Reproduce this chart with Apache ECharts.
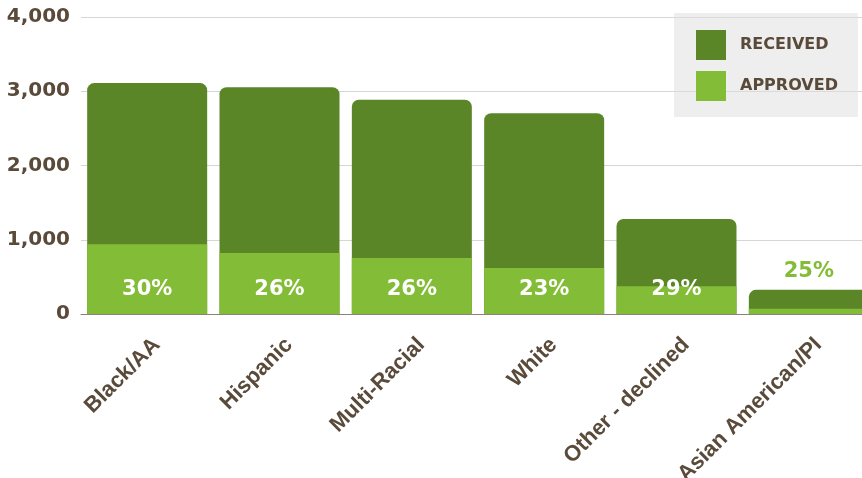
<!DOCTYPE html>
<html>
<head>
<meta charset="utf-8">
<script src="https://cdn.jsdelivr.net/npm/echarts@6/dist/echarts.min.js"></script>
<style>
  html, body { margin: 0; padding: 0; background: #fff; }
  #main { width: 862px; height: 478px; }
</style>
</head>
<body>
<div id="main"></div>
<script>
const categories = ['Black/AA', 'Hispanic', 'Multi-Racial', 'White', 'Other - declined', 'Asian American/PI'];
const received = [3110, 3055, 2885, 2705, 1280, 325];
const approved = [940, 820, 755, 620, 375, 70];
const percents = ['30%', '26%', '26%', '23%', '29%', '25%'];
const yTicks = [0, 1000, 2000, 3000, 4000];

const DARK = '#5b8628', LIGHT = '#83bd37', BROWN = '#5a4a3a';

var chart = echarts.init(document.getElementById('main'));

// short bars get their percent above the received bar instead of inside
function isShort(i) { return received[i] < 1000; }

var receivedData = received.map(function (v, i) {
    return {
        value: v,
        label: {
            show: isShort(i),
            position: 'top',
            distance: 8,
            formatter: percents[i],
            color: LIGHT,
            fontFamily: 'DejaVu Sans',
            fontWeight: 'bold',
            fontSize: 21
        }
    };
});

var approvedData = approved.map(function (v, i) {
    return {
        value: v,
        label: {
            show: !isShort(i),
            position: 'insideBottom',
            distance: 14,
            formatter: percents[i],
            color: '#fff',
            fontFamily: 'DejaVu Sans',
            fontWeight: 'bold',
            fontSize: 21
        }
    };
});

var option = {
    animation: false,
    grid: { left: 81, top: 17, right: -13, bottom: 164, containLabel: false, outerBoundsMode: 'none' },
    legend: {
        orient: 'vertical',
        left: 674,
        top: 13,
        padding: [17, 20, 16, 22],
        backgroundColor: 'rgba(222,222,222,0.5)',
        itemWidth: 30,
        itemHeight: 30,
        itemGap: 11,
        icon: 'rect',
        data: ['RECEIVED', 'APPROVED'],
        textStyle: {
            color: BROWN,
            fontFamily: 'DejaVu Sans',
            fontWeight: 'bold',
            fontSize: 16,
            padding: [0, 0, 0, 9]
        }
    },
    xAxis: {
        type: 'category',
        data: categories,
        axisTick: { show: false },
        axisLine: { show: true, lineStyle: { color: '#8c8279', width: 1 } },
        axisLabel: {
            interval: 0,
            rotate: 45,
            margin: 8,
            formatter: function (v) { return '{c|' + v + '}'; },
            rich: {
                c: {
                    padding: [41, 7, 0, 0],
                    color: BROWN,
                    fontFamily: 'Liberation Sans',
                    fontWeight: 'bold',
                    fontSize: 22
                }
            }
        }
    },
    yAxis: {
        type: 'value',
        min: yTicks[0],
        max: yTicks[yTicks.length - 1],
        interval: 1000,
        axisLine: { show: false },
        axisTick: { show: false },
        splitLine: { lineStyle: { color: '#d6d6d6', width: 1 } },
        axisLabel: {
            margin: 11,
            color: BROWN,
            fontFamily: 'DejaVu Sans',
            fontWeight: 'bold',
            fontSize: 20
        }
    },
    series: [
        {
            name: 'RECEIVED',
            type: 'bar',
            barWidth: 120,
            barGap: '-100%',
            itemStyle: { color: DARK, borderRadius: [7, 7, 0, 0] },
            data: receivedData
        },
        {
            name: 'APPROVED',
            type: 'bar',
            barWidth: 120,
            itemStyle: { color: LIGHT },
            data: approvedData
        }
    ]
};

chart.setOption(option);
</script>
</body>
</html>
